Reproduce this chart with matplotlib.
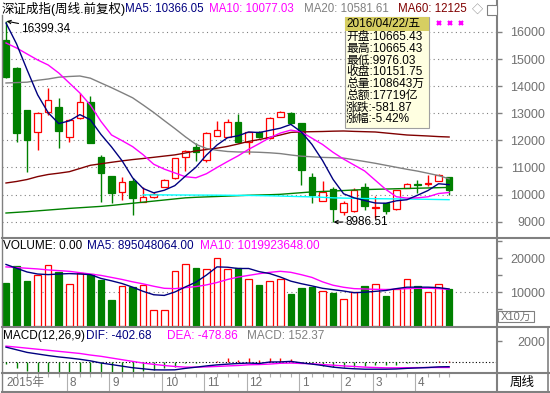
import numpy as np
import matplotlib
matplotlib.use("Agg")
import matplotlib.pyplot as plt
from matplotlib.lines import Line2D
from matplotlib.patches import Rectangle

plt.rcParams['font.family'] = ['Liberation Sans', 'Noto Sans CJK SC', 'DejaVu Sans']

# ---------------- data (weekly, 2015-06-26 .. 2016-04-22) ----------------
opens = [15705, 14684, 13122, 12322, 13060, 13245, 12138, 12814, 13429, 11400,
         10686, 10108, 10514, 9715, 9911, 10293, 10600, 11400, 11744, 11277,
         12174, 12138, 12667, 11953, 12322, 12076, 12876, 12999, 12630, 10637,
         9776, 10207, 9370, 9380, 10280, 9520, 9680, 9469, 10243, 10400,
         10390, 10487, 10665.43]
highs = [16399.34, 14700, 13122, 13060, 13921, 13577, 12790, 13737, 13651, 11461,
         10686, 10662, 10600, 10293, 10084, 10560, 11360, 11646, 11892, 12298,
         12716, 12790, 12974, 12320, 12350, 12876, 13080, 13060, 12650, 10785,
         10514, 10293, 9776, 10243, 10428, 9934, 9690, 10170, 10420, 10550,
         10734, 10760, 10665.43]
lows = [14315, 11953, 10846, 11646, 12937, 11732, 11929, 12790, 11892, 9739,
        9678, 9801, 9247, 9715, 9862, 10280, 10580, 10871, 11240, 11215,
        12150, 12120, 11900, 11486, 12100, 12050, 12850, 12600, 10354, 9678,
        9750, 8986.51, 9247, 9360, 9443, 9136, 9300, 9440, 10243, 10060,
        10303, 10487, 9976.03]
closes = [14352, 12261, 12015, 12999, 13491, 12347, 12753, 13405, 11892, 10809,
          10047, 10477, 9862, 9924, 10010, 10526, 11338, 11609, 11560, 12261,
          12384, 12667, 11953, 12298, 12138, 12814, 13060, 12630, 10908, 9985,
          10108, 9456, 9678, 10181, 9565, 9560, 9400, 10155, 10391, 10370,
          10430, 10733.62, 10151.75]

ma5 = [16330, 15560, 14600, 13680, 13020, 12620, 12720, 12950, 12760, 12220,
       11760, 11250, 10620, 10225, 10065, 10160, 10330, 10680, 11010, 11460,
       11830, 12100, 12170, 12310, 12290, 12370, 12450, 12590, 12310, 11850,
       11260, 10560, 10030, 9880, 9780, 9690, 9680, 9770, 9810, 9975,
       10150, 10400, 10366.05]
ma10 = [15594, 15410, 15188, 14967, 14782, 14487, 14118, 13749, 13300, 12700,
        12200, 11990, 11770, 11470, 11120, 10940, 10800, 10660, 10620, 10770,
        11000, 11220, 11430, 11670, 11880, 12100, 12270, 12380, 12310, 12080,
        11850, 11560, 11310, 11090, 10870, 10530, 10190, 9920, 9870, 9880,
        9920, 10040, 10077.03]
ma20 = [14118, 14133, 14148, 14218, 14266, 14332, 14358, 14376, 14295, 14118,
        13945, 13760, 13572, 13306, 13030, 12731, 12439, 12133, 11856, 11701,
        11635, 11590, 11572, 11572, 11561, 11542, 11513, 11461, 11417, 11395,
        11373, 11362, 11347, 11284, 11221, 11155, 11081, 11007, 10934, 10867,
        10786, 10701, 10581.61]
ma60 = [10428, 10484, 10557, 10664, 10742, 10790, 10845, 10963, 11081, 11137,
        11192, 11244, 11292, 11332, 11376, 11421, 11465, 11535, 11613, 11661,
        11712, 11779, 11867, 11963, 12030, 12111, 12199, 12295, 12314, 12321,
        12328, 12340, 12347, 12332, 12321, 12310, 12273, 12236, 12199, 12181,
        12162, 12140, 12125]
line_green = [9320, 9345, 9370, 9400, 9430, 9460, 9490, 9515, 9540, 9565,
              9600, 9640, 9680, 9720, 9760, 9800, 9840, 9880, 9900, 9915,
              9930, 9945, 9960, 9975, 9985, 9995, 10010, 10040, 10070, 10100,
              10115, 10130, 10150, 10170, 10185, 10195, 10205, 10215, 10225, 10235,
              10245, 10255, 10265]
line_cyan = [np.nan] * 13 + [9990, 9990, 9988, 9986, 9984, 9982, 9980, 9978, 9975, 9972,
                             9968, 9962, 9955, 9945, 9935, 9925, 9915, 9900, 9880, 9870,
                             9862, 9855, 9849, 9845, 9840, 9835, 9830, 9825, 9818, 9812]

volume = [12630, 17600, 13220, 15130, 17900, 15900, 12440, 15620, 15420, 13430,
          7760, 11640, 11440, 11940, 4780, 4780, 16120, 18120, 17010, 16720,
          19900, 16720, 17010, 13930, 11940, 13130, 13730, 9460, 11140, 11440,
          10450, 9640, 7970, 9940, 11640, 12440, 8960, 10950, 13730, 11640,
          10150, 12440, 10864]
vol_ma5 = [18120, 17000, 15900, 15300, 15130, 15300, 15430, 15300, 15130, 14000,
           13300, 12500, 11430, 10200, 9200, 9000, 10000, 11500, 12900, 15000,
           17400, 17300, 16930, 16930, 16000, 15430, 14420, 13200, 12450, 11800,
           11100, 10700, 10300, 9800, 9950, 10200, 10450, 11000, 11430, 11430,
           11430, 11300, 10900]
vol_ma10 = [17400, 17200, 17000, 16800, 16500, 16300, 16100, 15700, 15300, 14900,
            14300, 13700, 13000, 12400, 11700, 11100, 11000, 11300, 11600, 12100,
            12800, 13700, 14400, 14900, 15400, 15800, 16100, 15800, 15100, 14300,
            13000, 12000, 11400, 11000, 10900, 10800, 10750, 10850, 11000, 11100,
            11130, 11000, 10750]

dif = [1450, 1200, 950, 800, 650, 520, 420, 300, 150, -50,
       -200, -350, -500, -600, -700, -710, -700, -560, -450, -330,
       -230, -160, -100, -60, -100, 40, 50, 100, -40, -155,
       -290, -445, -540, -600, -640, -640, -640, -620, -560, -520,
       -480, -420, -402.68]
dea = [1545, 1450, 1350, 1250, 1150, 1050, 950, 850, 700, 580,
       420, 260, 100, -60, -180, -290, -380, -445, -445, -420,
       -380, -330, -290, -220, -200, -155, -80, -60, -100, -125,
       -200, -260, -330, -380, -445, -480, -510, -510, -500, -490,
       -480, -475, -478.86]
macd = [-150, -550, -800, -870, -870, -870, -870, -870, -870, -930,
        -1030, -1030, -930, -800, -710, -550, -390, -100, -30, 50,
        160, 420, 260, 420, 260, 420, 420, 320, -50, -160,
        -290, -390, -390, -390, -320, -260, -260, -230, -100, -20,
        50, 160, 152.37]

month_labels = ['2015年', '8', '9', '10', '11', '12', '1', '2', '3', '4']
month_pos = [0, 6, 10, 15, 19, 23, 28, 32, 35, 39]
price_ticks = [9000, 10000, 11000, 12000, 13000, 14000, 15000, 16000]
vol_ticks = [10000, 20000]
vol_minor = [5000, 15000, 25000]
macd_ticks = [2000]

info_rows = [('开盘', '10665.43'), ('最高', '10665.43'), ('最低', '9976.03'),
             ('收盘', '10151.75'), ('总量', '108643万'), ('总额', '17719亿'),
             ('涨跌', '-581.87'), ('涨幅', '-5.42%')]

# ---------------- figure ----------------
W, H = 550, 393
fig = plt.figure(figsize=(W / 100, H / 100), dpi=100)
fig.patch.set_facecolor('white')

RED = '#FF0000'; GREEN = '#008000'; NAVY = '#000080'; MAG = '#FF00FF'
GRAY = '#808080'; MAROON = '#800000'; CYAN = '#00FFFF'; FRAME = '#808080'
LBL = '#707070'


def rect(x0, y0, x1, y1):
    return [x0 / W, 1 - y1 / H, (x1 - x0) / W, (y1 - y0) / H]


def fx(p):
    return p / W


def fy(p):
    return 1 - p / H


n = len(closes)
x = np.arange(n)
XL = (-0.38, 46.54)

ax = fig.add_axes(rect(2, 17, 497, 237))
axv = fig.add_axes(rect(2, 237, 497, 326))
axm = fig.add_axes(rect(2, 326, 497, 373))
axd = fig.add_axes(rect(2, 373, 497, 392))
for a in (ax, axv, axm, axd):
    a.set_xlim(*XL)
    for s in a.spines.values():
        s.set_visible(False)
    a.set_xticks([])
    a.patch.set_alpha(0)


def right_axis(a, ticks, minor=None):
    a.yaxis.tick_right()
    a.set_yticks(ticks)
    a.set_yticklabels([str(t) for t in ticks])
    if minor:
        a.set_yticks(minor, minor=True)
    a.tick_params(axis='y', which='both', direction='out', length=3.5, width=1,
                  color=FRAME, labelsize=9, labelcolor=LBL, pad=31)
    for t in a.get_yticklabels():
        t.set_horizontalalignment('right')


o = np.array(opens); c = np.array(closes); h = np.array(highs); l = np.array(lows)
up = c >= o
edge = [RED if u else GREEN for u in up]
face = ['white' if u else GREEN for u in up]

# ---- main price panel ----
ax.set_ylim(8435, 16553)
for t in price_ticks:
    ax.axhline(t, color=GRAY, lw=0.8, ls=(0, (1, 3)), zorder=0)
ax.vlines(x, l, h, colors=edge, lw=1.0, zorder=2)
ax.bar(x, np.maximum(np.abs(c - o), 25), bottom=np.minimum(o, c), width=0.62,
       color=face, edgecolor=edge, linewidth=0.9, zorder=3)
ax.plot(x, line_green, color=GREEN, lw=1.0, zorder=4)
ax.plot(x, line_cyan, color=CYAN, lw=1.0, zorder=4)
ax.plot(x, ma60, color=MAROON, lw=1.0, zorder=4)
ax.plot(x, ma20, color=GRAY, lw=1.0, zorder=4)
ax.plot(x, ma10, color=MAG, lw=1.0, zorder=5)
ax.plot(x, ma5, color=NAVY, lw=1.0, zorder=6)
right_axis(ax, price_ticks)

imax = int(np.argmax(h)); imin = int(np.argmin(l))
ax.annotate(f'{h[imax]:.2f}', xy=(imax + 0.05, h[imax]), xytext=(imax + 1.45, h[imax] - 280),
            fontsize=8.5, color='black', ha='left', va='center',
            arrowprops=dict(arrowstyle='->', color='black', lw=0.8, shrinkA=0, shrinkB=0,
                            mutation_scale=6), zorder=7)
ax.annotate(f'{l[imin]:.2f}', xy=(imin + 0.05, l[imin]), xytext=(imin + 1.2, l[imin]),
            fontsize=8.5, color='black', ha='left', va='center',
            arrowprops=dict(arrowstyle='->', color='black', lw=0.8, shrinkA=0, shrinkB=0,
                            mutation_scale=6), zorder=7)

# ---- volume panel ----
axv.set_ylim(0, 26200)
axv.axhline(10000, color=GRAY, lw=0.8, ls=(0, (1, 3)), zorder=0)
axv.bar(x, volume, width=0.62, color=face, edgecolor=edge, linewidth=0.9, zorder=3)
axv.plot(x, vol_ma10, color=MAG, lw=1.0, zorder=4)
axv.plot(x, vol_ma5, color=NAVY, lw=1.0, zorder=5)
right_axis(axv, vol_ticks, vol_minor)

# ---- MACD panel ----
axm.set_ylim(-1000, 3450)
axm.axhline(0, color='black', lw=0.8, ls=(0, (1, 2)), zorder=0)
mc = np.array(macd)
axm.vlines(x, 0, mc, colors=[RED if v > 0 else GREEN for v in mc], lw=1.0, zorder=2)
axm.plot(x, dea, color=MAG, lw=1.0, zorder=3)
axm.plot(x, dif, color=NAVY, lw=1.0, zorder=4)
right_axis(axm, macd_ticks)

# ---- date row ----
axd.set_ylim(0, 1)
axd.set_yticks([])
wk = [i for i in x if i not in month_pos]
axd.vlines(wk, 0.8, 1.0, colors='#B0B0B0', lw=0.8)
axd.vlines(np.array(month_pos[1:]) - 0.2, 0, 1, colors='#B0B0B0', lw=0.8)
for p, lab in zip(month_pos, month_labels):
    axd.text(p + 0.05, 0.45, lab, fontsize=8.5, color=LBL, ha='left', va='center')

# ---- frame lines ----
def fline(xs, ys, lw=1.5, color=FRAME):
    fig.add_artist(Line2D([fx(v) for v in xs], [fy(v) for v in ys], color=color, lw=lw,
                          transform=fig.transFigure, zorder=5))

fline([497, 497], [0, 393])
fline([2, 2], [15, 393], lw=1.0)
fline([2, 550], [237.5, 237.5])
fline([2, 550], [326.5, 326.5])
fline([2, 550], [373, 373])
fline([2, 550], [392, 392])
fline([548, 548], [326.5, 393], lw=1.2)

# X10万 box and 周线 box
fig.add_artist(Rectangle((fx(498), fy(322)), 36 / W, 11 / H, transform=fig.transFigure,
                         facecolor='white', edgecolor=FRAME, lw=0.8, zorder=6))
fig.text(fx(516), fy(316.5), 'X10万', fontsize=8, color=LBL, ha='center', va='center', zorder=7)
fig.text(fx(522), fy(382.5), '周线', fontsize=9, color='black', ha='center', va='center', zorder=7)

# ---- headers ----
def htext(px, py, s, color, size=8.5):
    fig.text(fx(px), fy(py), s, fontsize=size, color=color, ha='left', va='center', zorder=7)

htext(2, 9, '深证成指(周线.前复权)', 'black', 9)
htext(125, 9, f'MA5: {ma5[-1]:.2f}', NAVY, 8.3)
htext(209, 9, f'MA10: {ma10[-1]:.2f}', MAG, 8.3)
htext(304, 9, f'MA20: {ma20[-1]:.2f}', GRAY, 8.3)
htext(398, 9, f'MA60: {ma60[-1]:.0f}', MAROON, 8.3)
htext(472, 9, '◇', GRAY, 8)
fig.add_artist(Rectangle((fx(487), fy(15)), 10 / W, 10 / H, transform=fig.transFigure,
                         facecolor='white', edgecolor=GRAY, lw=0.8, zorder=6))
fline([492, 492], [5, 15], lw=0.8, color=GRAY)

htext(3, 246, 'VOLUME: 0.00', 'black', 8.5)
htext(87, 246, 'MA5: 895048064.00', NAVY, 8.5)
htext(200, 246, 'MA10: 1019923648.00', MAG, 8.5)

htext(3, 336, 'MACD(12,26,9)', 'black', 8.5)
htext(86, 336, f'DIF: {dif[-1]:.2f}', NAVY, 8.5)
htext(167, 336, f'DEA: {dea[-1]:.2f}', MAG, 8.5)
htext(247, 336, f'MACD: {macd[-1]:.2f}', GRAY, 8.5)

# magenta markers top right
fig.add_artist(Line2D([fx(439), fx(450), fx(461)], [fy(22.7)] * 3, transform=fig.transFigure,
                      ls='none', marker='x', ms=3.5, mew=1.6, color=MAG, zorder=7))

# ---- info box ----
fig.add_artist(Rectangle((fx(345), fy(128)), 84 / W, 111 / H, transform=fig.transFigure,
                         facecolor='#FFFFE1', edgecolor='#A0A0A0', lw=0.8, zorder=6))
fig.add_artist(Rectangle((fx(345), fy(30.5)), 84 / W, 13.5 / H, transform=fig.transFigure,
                         facecolor='#D6CE62', edgecolor='none', zorder=6))
fig.text(fx(346), fy(24), '2016/04/22/五', fontsize=8.5, color='black', ha='left', va='center', zorder=7)
row_y = [36.7, 48.7, 60.5, 72.5, 84.2, 96, 107.5, 119]
for (k, v), yy in zip(info_rows, row_y):
    fig.text(fx(346), fy(yy), f'{k}:{v}', fontsize=8.5, color='black', ha='left', va='center', zorder=7)

fig.savefig('out.png', dpi=100, facecolor='white')
